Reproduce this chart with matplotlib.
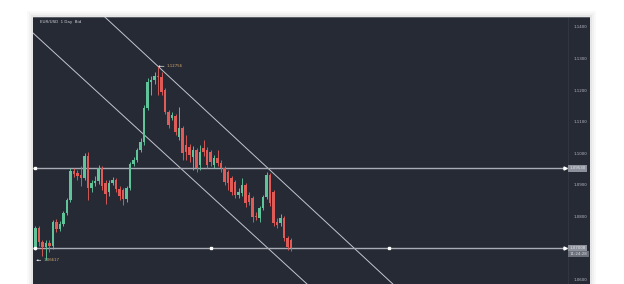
import matplotlib
matplotlib.use("Agg")
import matplotlib.pyplot as plt
from matplotlib.patches import Rectangle

# EUR/USD daily candles
opens = [1.07038, 1.07639, 1.07196, 1.07038, 1.07164, 1.07070, 1.07829, 1.07607, 1.07766, 1.08114,
         1.08525, 1.09443, 1.09380, 1.09316, 1.09221, 1.09918, 1.08905, 1.09063, 1.09126, 1.09538,
         1.09063, 1.08778, 1.09063, 1.09158, 1.08873, 1.08842, 1.08557, 1.08905, 1.09664, 1.09791,
         1.10108, 1.10361, 1.11437, 1.12259, 1.12323, 1.12449, 1.12418, 1.12006, 1.11310, 1.11120,
         1.11184, 1.10519, 1.10804, 1.10266, 1.10202, 1.09886, 1.10108, 1.09633, 1.10171, 1.10108,
         1.10044, 1.09633, 1.09854, 1.09696, 1.09538, 1.09411, 1.09221, 1.09095, 1.08683, 1.08747,
         1.09000, 1.08683, 1.08589, 1.08019, 1.07956, 1.08272, 1.08620, 1.09316, 1.08778, 1.07829,
         1.07797, 1.07956, 1.07323, 1.07259]
closes = [1.07639, 1.07196, 1.07038, 1.07164, 1.07070, 1.07829, 1.07607, 1.07766, 1.08114, 1.08525,
          1.09443, 1.09348, 1.09285, 1.09221, 1.09918, 1.08905, 1.09063, 1.09126, 1.09538, 1.08968,
          1.08715, 1.09063, 1.09158, 1.08873, 1.08652, 1.08557, 1.08905, 1.09664, 1.09791, 1.10108,
          1.10361, 1.11437, 1.12259, 1.12323, 1.12449, 1.12418, 1.11943, 1.11310, 1.10899, 1.11215,
          1.10677, 1.10804, 1.10013, 1.10044, 1.09949, 1.10108, 1.09538, 1.10044, 1.10044, 1.09633,
          1.09728, 1.09854, 1.09696, 1.09538, 1.09095, 1.09063, 1.08778, 1.08683, 1.08778, 1.09000,
          1.08430, 1.08462, 1.07987, 1.07987, 1.08272, 1.08620, 1.09316, 1.08430, 1.07797, 1.07734,
          1.07956, 1.07323, 1.07038, 1.07006]
highs = [1.07702, 1.07702, 1.07259, 1.07259, 1.07259, 1.07892, 1.07924, 1.07861, 1.08177, 1.08589,
         1.09538, 1.09538, 1.09475, 1.09601, 1.10013, 1.10044, 1.09158, 1.09285, 1.09633, 1.09601,
         1.09158, 1.09158, 1.09253, 1.09221, 1.08968, 1.08905, 1.08968, 1.09728, 1.09886, 1.10171,
         1.10487, 1.11532, 1.12386, 1.12449, 1.12576, 1.12756, 1.12576, 1.12070, 1.11373, 1.11310,
         1.11247, 1.11468, 1.10867, 1.10582, 1.10297, 1.10234, 1.10171, 1.10266, 1.10424, 1.10202,
         1.10108, 1.09949, 1.10108, 1.09791, 1.09601, 1.09475, 1.09285, 1.09158, 1.08905, 1.09221,
         1.09063, 1.08778, 1.08652, 1.08145, 1.08335, 1.08683, 1.09411, 1.09380, 1.08842, 1.07956,
         1.08082, 1.08019, 1.07386, 1.07323]
lows = [1.06943, 1.07070, 1.06753, 1.06617, 1.06880, 1.06975, 1.07512, 1.07544, 1.07702, 1.08051,
        1.08462, 1.09253, 1.09158, 1.08968, 1.09158, 1.08525, 1.08778, 1.08968, 1.09032, 1.08842,
        1.08399, 1.08652, 1.09000, 1.08778, 1.08525, 1.08367, 1.08462, 1.08842, 1.09601, 1.09728,
        1.10044, 1.10266, 1.11373, 1.11848, 1.12196, 1.11848, 1.11848, 1.11247, 1.10804, 1.11057,
        1.10582, 1.10424, 1.09791, 1.09791, 1.09728, 1.09475, 1.09411, 1.09475, 1.09918, 1.09538,
        1.09601, 1.09538, 1.09601, 1.09411, 1.09000, 1.08842, 1.08683, 1.08589, 1.08589, 1.08652,
        1.08304, 1.08367, 1.07829, 1.07892, 1.07829, 1.08209, 1.08557, 1.08335, 1.07702, 1.07639,
        1.07702, 1.07228, 1.06943, 1.06911]

price_ticks = [1.14, 1.13, 1.12, 1.11, 1.10, 1.09, 1.08, 1.06]
tick_labels = ["1.1400", "1.1300", "1.1200", "1.1100", "1.1000", "1.0900", "1.0800", "1.0600"]

# drawn objects: channel lines (two anchor points each) and horizontal levels
upper_channel = [(35, 1.12756), (66, 1.09573)]
lower_channel = [(0, 1.13737), (60, 1.07649)]
levels = [1.09530, 1.07008]
level_labels = ["1.09530", "1.07008"]
level_dots = [[0], [0, 50, 101]]
countdown = "11:24:28"
peak_label = "1.12756"
trough_label = "1.06617"

BG = "#262a35"
UP = "#5fc49a"
DOWN = "#de5b57"
LINE = "#c3c6ce"
TXT = "#b8bbc4"


def main():
    fig = plt.figure(figsize=(6.24, 2.84), dpi=100)
    fig.patch.set_facecolor("white")

    # soft shadow + dark panel (kept behind the axes)
    for k, a in [(6, 0.025), (4, 0.03), (2, 0.045)]:
        fig.patches.append(Rectangle(((33 - k) / 624, 0), (557 + 2 * k) / 624, (267 + k) / 284,
                                     transform=fig.transFigure, color="black", alpha=a, lw=0,
                                     zorder=-10))
    fig.patches.append(Rectangle((33 / 624, 0), 557 / 624, 267 / 284,
                                 transform=fig.transFigure, color=BG, lw=0, zorder=-9))
    fig.patches.append(Rectangle((568 / 624, 0), 0.6 / 624, 267 / 284,
                                 transform=fig.transFigure, color="#31353f", lw=0, zorder=-8))
    fig.patches.append(Rectangle((33 / 624, 266.3 / 284), 557 / 624, 0.7 / 284,
                                 transform=fig.transFigure, color="#5a5e68", lw=0, zorder=-8))

    ax = fig.add_axes([33 / 624, 0, 535 / 624, 267 / 284])
    ax.set_facecolor("none")
    for s in ax.spines.values():
        s.set_visible(False)

    x = list(range(len(opens)))
    cols = [UP if c >= o else DOWN for o, c in zip(opens, closes)]
    ax.vlines(x, lows, highs, colors=cols, lw=0.65, zorder=3)
    heights = [max(abs(c - o), 0.00012) for o, c in zip(opens, closes)]
    bottoms = [min(o, c) for o, c in zip(opens, closes)]
    ax.bar(x, heights, bottom=bottoms, width=0.8, color=cols, lw=0, zorder=4)

    for (p1, p2) in [upper_channel, lower_channel]:
        ax.axline(p1, p2, color=LINE, lw=0.7, zorder=2)

    for lvl, dots in zip(levels, level_dots):
        ax.axhline(lvl, color="#a9acb5", lw=1.0, zorder=2)
        ax.plot(dots, [lvl] * len(dots), "s", ms=1.5, color="white", zorder=5)
        ax.plot([151.3], [lvl], ">", ms=2.2, color="white", zorder=5, clip_on=False)

    # high/low markers
    ax.annotate(peak_label, xy=(35, highs[35]), xytext=(37.5, highs[35]),
                fontsize=2.8, color="#d8aa70", va="center",
                arrowprops=dict(arrowstyle="-|>", color="#e8e8e8", lw=0.5, mutation_scale=2,
                                shrinkA=0, shrinkB=0))
    ax.annotate(trough_label, xy=(0.2, lows[3]), xytext=(2.3, lows[3]),
                fontsize=2.8, color="#d8aa70", va="center",
                arrowprops=dict(arrowstyle="-|>", color="#e8e8e8", lw=0.5, mutation_scale=2,
                                shrinkA=0, shrinkB=0))

    ax.set_xlim(-0.714, 152.14)
    ax.set_ylim(1.05867, 1.14316)
    ax.set_xticks([])
    ax.yaxis.tick_right()
    ax.set_yticks(price_ticks)
    ax.set_yticklabels(tick_labels)
    ax.tick_params(axis="y", length=0, pad=4.2, labelsize=2.9, labelcolor=TXT)

    # price labels on the scale
    box = dict(boxstyle="square,pad=0.35", fc="#8d919b", ec="none")
    for lvl, lab in zip(levels, level_labels):
        ax.annotate(lab, xy=(1.003, lvl), xycoords=("axes fraction", "data"),
                    fontsize=2.9, color="#e6e7ea", va="center", ha="left", bbox=box,
                    annotation_clip=False)
    ax.annotate(countdown, xy=(1.003, levels[1] - 0.0019), xycoords=("axes fraction", "data"),
                fontsize=2.9, color="#dcdde1", va="center", ha="left",
                bbox=dict(boxstyle="square,pad=0.35", fc="#6b6f79", ec="none"),
                annotation_clip=False)

    fig.text(40 / 624, 1 - 22 / 284, "EUR/USD  1 Day  Bid", fontsize=2.9, color="#d0d2d8",
             va="center", ha="left")

    fig.savefig("out.png", dpi=100, facecolor=fig.get_facecolor())


if __name__ == "__main__":
    main()
